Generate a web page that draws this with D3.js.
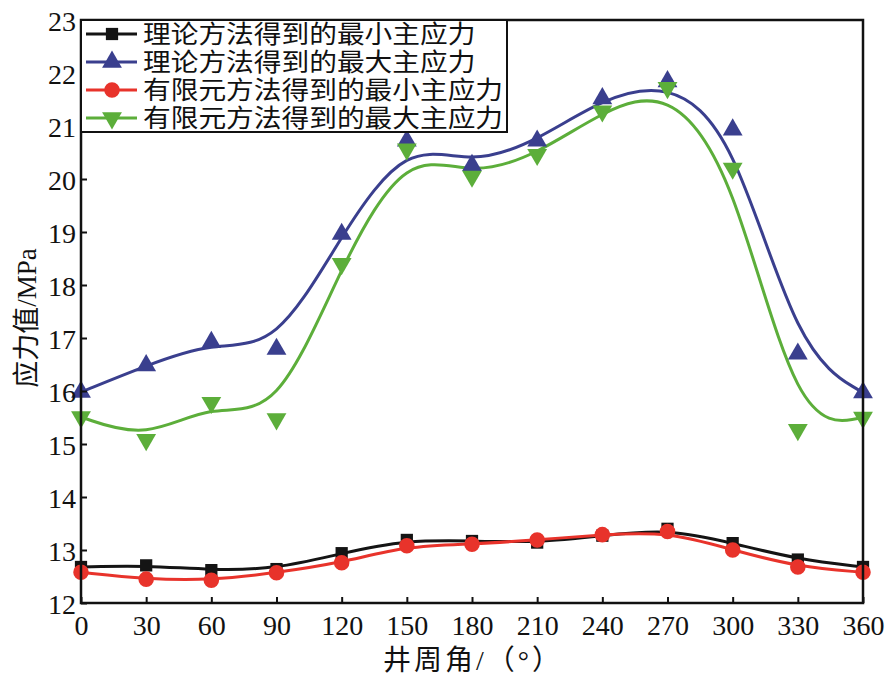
<!DOCTYPE html>
<html lang="zh">
<head>
<meta charset="utf-8">
<title>井周应力</title>
<script src="https://cdn.jsdelivr.net/npm/d3@7"></script>
<style>
  body { margin: 0; background: #fff; }
  .tick text { font-family: "Liberation Serif", "DejaVu Serif", serif; font-size: 28px; fill: #111; }
  .cjk { font-family: "Liberation Serif", "Noto Sans CJK SC", serif; fill: #111; }
</style>
</head>
<body>
<div id="chart"></div>
<script>
// 井周角 (°)
var angles = [0, 30, 60, 90, 120, 150, 180, 210, 240, 270, 300, 330, 360];
// 理论方法得到的最小主应力
var theoryMin = [12.68, 12.71, 12.62, 12.64, 12.94, 13.19, 13.17, 13.14, 13.27, 13.40, 13.13, 12.82, 12.68];
// 理论方法得到的最大主应力
var theoryMax = [15.98, 16.48, 16.92, 16.79, 18.96, 20.72, 20.26, 20.72, 21.52, 21.84, 20.93, 16.70, 15.97];
// 有限元方法得到的最小主应力
var femMin = [12.58, 12.45, 12.43, 12.57, 12.76, 13.08, 13.11, 13.19, 13.29, 13.35, 13.00, 12.68, 12.58];
// 有限元方法得到的最大主应力
var femMax = [15.51, 15.08, 15.78, 15.47, 18.40, 20.56, 20.05, 20.46, 21.28, 21.72, 20.20, 15.27, 15.50];

var xTicks = [0, 30, 60, 90, 120, 150, 180, 210, 240, 270, 300, 330, 360];
var yTicks = [12, 13, 14, 15, 16, 17, 18, 19, 20, 21, 22, 23];

var series = [
  { name: "理论方法得到的最小主应力", values: theoryMin, color: "#141414", marker: "square" },
  { name: "理论方法得到的最大主应力", values: theoryMax, color: "#3a3f8e", marker: "up" },
  { name: "有限元方法得到的最小主应力", values: femMin, color: "#e8332b", marker: "circle" },
  { name: "有限元方法得到的最大主应力", values: femMax, color: "#5cae3a", marker: "down" }
];

var width = 886, height = 684;
var plotL = 81, plotR = 863, plotT = 20, plotB = 603;

var svg = d3.select("#chart").append("svg")
  .attr("width", width)
  .attr("height", height);

var x = d3.scaleLinear().domain([0, 360]).range([plotL, plotR]);
var y = d3.scaleLinear().domain([12, 23]).range([plotB, plotT]);

var symbols = {
  square: d3.symbol().type(d3.symbolSquare).size(150),
  circle: d3.symbol().type(d3.symbolCircle).size(190),
  up: d3.symbol().type(d3.symbolTriangle).size(170),
  down: d3.symbol().type(d3.symbolTriangle).size(170)
};

function drawMarker(g, m, color, cx, cy) {
  g.append("path")
    .attr("d", symbols[m]())
    .attr("fill", color)
    .attr("transform", "translate(" + cx + "," + cy + ")" + (m == "down" ? " rotate(180)" : ""));
}

// smooth fitted curves
var line = d3.line()
  .x(function(d) { return x(d[0]); })
  .y(function(d) { return y(d[1]); })
  .curve(d3.curveBasis);

series.forEach(function(s) {
  var pts = angles.map(function(a, i) { return [a, s.values[i]]; });
  svg.append("path")
    .datum(pts)
    .attr("d", line)
    .attr("fill", "none")
    .attr("stroke", s.color)
    .attr("stroke-width", 3);
});

series.forEach(function(s) {
  var g = svg.append("g");
  angles.forEach(function(a, i) {
    drawMarker(g, s.marker, s.color, x(a), y(s.values[i]));
  });
});

// frame
svg.append("rect")
  .attr("x", plotL).attr("y", plotT)
  .attr("width", plotR - plotL).attr("height", plotB - plotT)
  .attr("fill", "none")
  .attr("stroke", "#111")
  .attr("stroke-width", 2.5);

// axes, ticks inward
var xAxis = svg.append("g")
  .attr("transform", "translate(0," + plotB + ")")
  .call(d3.axisBottom(x).tickValues(xTicks).tickSize(-6).tickPadding(12));
var yAxis = svg.append("g")
  .attr("transform", "translate(" + plotL + ",0)")
  .call(d3.axisLeft(y).tickValues(yTicks).tickSize(-6).tickPadding(5));

[xAxis, yAxis].forEach(function(a) {
  a.select(".domain").remove();
  a.selectAll(".tick line").attr("stroke", "#111").attr("stroke-width", 2);
});
yAxis.selectAll(".tick text").attr("dy", "0.36em");

// axis titles
svg.append("text")
  .attr("class", "cjk")
  .attr("x", 473).attr("y", 670)
  .attr("text-anchor", "middle")
  .style("font-size", "28px")
  .style("letter-spacing", "3px")
  .text("井周角/（°）");

svg.append("text")
  .attr("class", "cjk")
  .attr("transform", "translate(36,318) rotate(-90)")
  .attr("text-anchor", "middle")
  .style("font-size", "27px")
  .text("应力值/MPa");

// legend
var legend = svg.append("g");
legend.append("rect")
  .attr("x", plotL).attr("y", plotT)
  .attr("width", 507 - plotL).attr("height", 132 - plotT)
  .attr("fill", "#fff")
  .attr("stroke", "#111")
  .attr("stroke-width", 2);

series.forEach(function(s, i) {
  var cy = 34 + i * 28;
  legend.append("line")
    .attr("x1", 86).attr("x2", 137)
    .attr("y1", cy).attr("y2", cy)
    .attr("stroke", s.color)
    .attr("stroke-width", 3);
  drawMarker(legend, s.marker, s.color, 112, cy);
  legend.append("text")
    .attr("class", "cjk")
    .attr("transform", "translate(143," + (cy + 9) + ") scale(0.99,0.9)")
    .style("font-size", "28px")
    .text(s.name);
});
</script>
</body>
</html>
